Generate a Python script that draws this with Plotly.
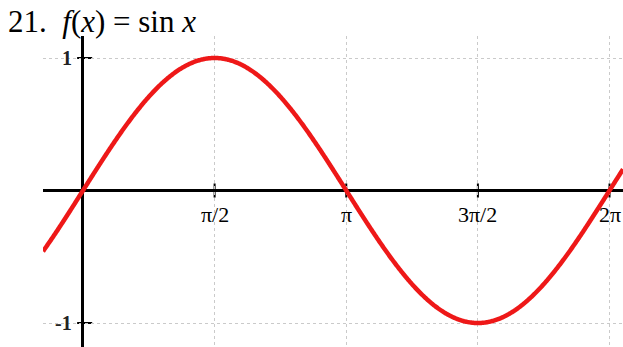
import numpy as np
import plotly.graph_objects as go

# Curve sampled on the visible x window
x_min, x_max = -0.477, 6.444
y_min, y_max = -1.181, 1.166
xs = np.linspace(x_min, x_max, 800)
ys = np.sin(xs)

# Axis ticks and their labels
x_ticks = [np.pi / 2, np.pi, 3 * np.pi / 2, 2 * np.pi]
x_labels = ["π/2", "π", "3π/2", "2π"]
y_ticks = [1, -1]
y_labels = ["1", "-1"]

SERIF = '"Liberation Serif"'

fig = go.Figure()
fig.add_trace(go.Scatter(
    x=xs, y=ys, mode="lines",
    line=dict(color="#EE1818", width=4.5, simplify=False),
    hoverinfo="skip", showlegend=False,
))

# Tick marks crossing the axes
shapes = []
for xv in x_ticks:
    shapes.append(dict(type="line", xref="x", yref="y", x0=xv, x1=xv, y0=-0.053, y1=0.053,
                       line=dict(color="black", width=2), layer="below"))
for yv in y_ticks:
    shapes.append(dict(type="line", xref="x", yref="y", x0=-0.07, x1=0.11, y0=yv, y1=yv,
                       line=dict(color="black", width=2), layer="below"))

annotations = []
for xv, lab in zip(x_ticks, x_labels):
    annotations.append(dict(x=xv, y=0, xref="x", yref="y", text=lab, showarrow=False,
                            xanchor="center", yanchor="middle", yshift=-24,
                            font=dict(family=SERIF, size=22, color="black")))
for yv, lab in zip(y_ticks, y_labels):
    annotations.append(dict(x=0, y=yv, xref="x", yref="y", text="<b>" + lab + "</b>", showarrow=False,
                            xanchor="right", yanchor="middle", xshift=-9,
                            font=dict(family=SERIF, size=20, color="#222222")))

# Title line
annotations.append(dict(x=0, y=1, xref="paper", yref="paper",
                        text="21.  <i>f</i>(<i>x</i>) = sin <i>x</i>", showarrow=False,
                        xanchor="left", yanchor="middle", xshift=-37, yshift=15,
                        font=dict(family=SERIF, size=31, color="black")))

fig.update_layout(
    width=623, height=347,
    margin=dict(l=43, r=0, t=36, b=0),
    paper_bgcolor="white", plot_bgcolor="white",
    font=dict(family=SERIF),
    shapes=shapes, annotations=annotations,
    xaxis=dict(range=[x_min, x_max], tickvals=x_ticks, showticklabels=False,
               showgrid=True, gridcolor="#CACACA", griddash="dot", gridwidth=1,
               zeroline=True, zerolinecolor="black", zerolinewidth=2.5,
               showline=False, ticks=""),
    yaxis=dict(range=[y_min, y_max], tickvals=y_ticks, showticklabels=False,
               showgrid=True, gridcolor="#CACACA", griddash="dot", gridwidth=1,
               zeroline=True, zerolinecolor="black", zerolinewidth=2.5,
               showline=False, ticks=""),
)

fig.write_html("out.html")
